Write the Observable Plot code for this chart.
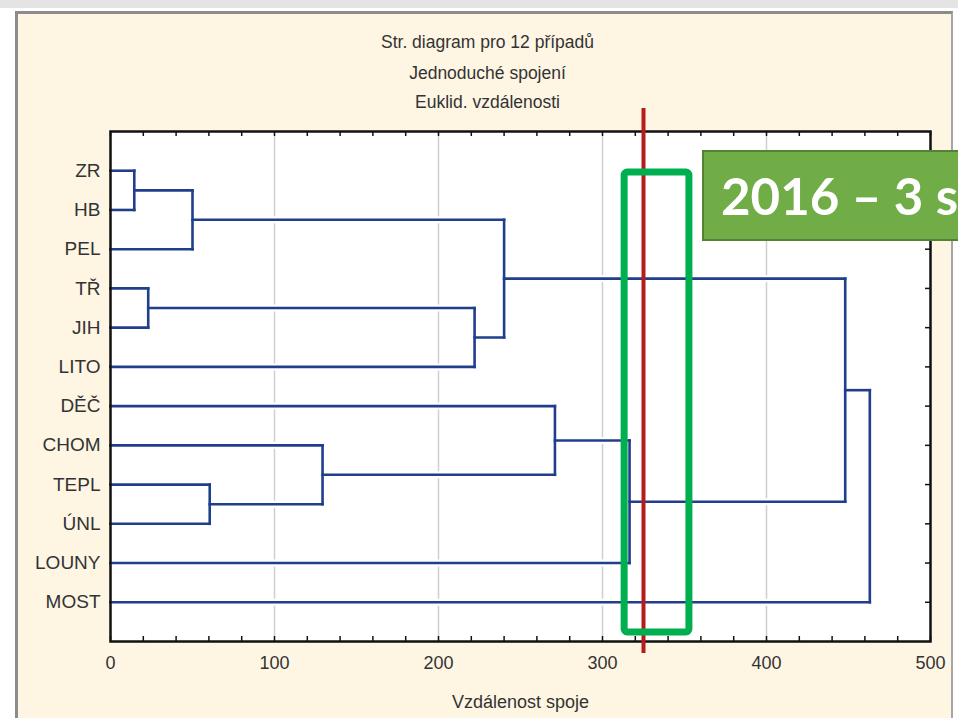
<!DOCTYPE html>
<html>
<head>
<meta charset="utf-8">
<script src="https://cdn.jsdelivr.net/npm/d3@7"></script>
<script src="https://cdn.jsdelivr.net/npm/@observablehq/plot@0.6"></script>
<style>
  html, body { margin: 0; padding: 0; width: 958px; height: 718px; overflow: hidden; background: #ffffff; }
  #page { position: relative; width: 958px; height: 718px; overflow: hidden; }
  #strip { position: absolute; left: 0; top: 0; width: 958px; height: 8px; background: #e4e4e4; }
  #panel { position: absolute; left: 15px; top: 11px; width: 938px; height: 720px; background: #fef5e3;
           border-left: 3px solid #8c8c8c; border-top: 3px solid #8c8c8c; border-right: 2px solid #a6a6a6; box-sizing: border-box; }
  #chart { position: absolute; left: 0; top: 0; }
  #badge { position: absolute; left: 702px; top: 150px; width: 320px; height: 91px; box-sizing: border-box;
           background: #70ad47; border: 2px solid #548235; color: #ffffff;
           font-family: Lato, "Open Sans", sans-serif; font-weight: 700; font-size: 51px;
           line-height: 87px; padding-left: 17px; white-space: nowrap; }
</style>
</head>
<body>
<div id="page">
  <div id="strip"></div>
  <div id="panel"></div>
  <div id="chart"></div>
  <div id="badge"></div>
</div>
<script>
// ---- data ----
const labels = ["ZR", "HB", "PEL", "TŘ", "JIH", "LITO", "DĚČ", "CHOM", "TEPL", "ÚNL", "LOUNY", "MOST"];
// merges: node ids 0..11 are leaves, 12.. are clusters in order of creation
const mergeLeft   = [0,    12, 3,  14,  13,  8,    7,     6,   19,    16,  21];
const mergeRight  = [1,    2,  4,  5,   15,  9,    17,    18,  10,    20,  11];
const mergeHeight = [14.5, 50, 23, 222, 240, 60.5, 129.3, 271, 316.5, 448, 463];
const cutLevel = 325;
const highlightRange = [313.5, 353];
const xTicks = [0, 100, 200, 300, 400, 500];
const gridTicks = [100, 200, 300, 400];
const titleLines = ["Str. diagram pro 12 případů", "Jednoduché spojení", "Euklid. vzdálenosti"];
const xLabel = "Vzdálenost spoje";
const badgeText = "2016 – 3 s";

// ---- layout of the dendrogram from merges ----
const nodeX = labels.map(() => 0);
const nodeY = labels.map((_, i) => i + 1);
const segments = [];
mergeLeft.forEach((a, k) => {
  const b = mergeRight[k], h = mergeHeight[k];
  segments.push({x1: nodeX[a], y1: nodeY[a], x2: h, y2: nodeY[a]});
  segments.push({x1: nodeX[b], y1: nodeY[b], x2: h, y2: nodeY[b]});
  segments.push({x1: h, y1: nodeY[a], x2: h, y2: nodeY[b]});
  nodeX.push(h);
  nodeY.push((nodeY[a] + nodeY[b]) / 2);
});
const rows = labels.map((_, i) => i + 1);
const minorTicks = d3.range(0, 501, 20);

const W = 958, H = 718, mL = 110, mR = 28, mT = 131, mB = 77;
const plotW = W - mL - mR, plotH = H - mT - mB;
const titleDy = [-89, -58, -29];

const chart = Plot.plot({
  width: W, height: H,
  marginLeft: mL, marginRight: mR, marginTop: mT, marginBottom: mB,
  style: {background: "transparent", fontFamily: "'Liberation Sans', Arial, sans-serif", overflow: "visible"},
  x: {domain: [0, 500]},
  y: {domain: [0, 13], reverse: true},
  marks: [
    Plot.frame({fill: "#ffffff", stroke: "none"}),
    Plot.ruleX(gridTicks, {stroke: "#cfcfcf", strokeWidth: 1.5}),
    Plot.link(segments, {x1: "x1", y1: "y1", x2: "x2", y2: "y2", stroke: "#ffffff", strokeWidth: 7}),
    Plot.link(segments, {x1: "x1", y1: "y1", x2: "x2", y2: "y2", stroke: "#1f3f8c", strokeWidth: 2.6, strokeLinecap: "square"}),
    Plot.frame({stroke: "#111111", strokeWidth: 2.5}),
    Plot.ruleX(minorTicks, {stroke: "#111111", strokeWidth: 1.5, insetTop: plotH - 5}),
    Plot.ruleX(minorTicks, {stroke: "#111111", strokeWidth: 1.5, insetBottom: plotH - 5}),
    Plot.ruleY(rows, {stroke: "#111111", strokeWidth: 1.5, insetLeft: plotW - 5}),
    Plot.ruleX([cutLevel], {stroke: "#b51d1d", strokeWidth: 4, insetTop: -23, insetBottom: -12}),
    Plot.rect([highlightRange], {x1: d => d[0], x2: d => d[1], insetTop: 41, insetBottom: 9,
      fill: "none", stroke: "#00b050", strokeWidth: 7, rx: 3}),
    Plot.axisX({ticks: xTicks, tickSize: 0, tickPadding: 15, fontSize: 18, fill: "#333333", label: null}),
    Plot.axisY({ticks: rows, tickFormat: d => labels[d - 1], tickSize: 0, tickPadding: 10, fontSize: 19, fill: "#333333", label: null}),
    ...titleLines.map((t, i) => Plot.text([t], {text: d => d, frameAnchor: "top", dx: -33, dy: titleDy[i],
      fontSize: 17.5, fill: "#333333", lineAnchor: "middle"})),
    Plot.text([xLabel], {text: d => d, frameAnchor: "bottom", dy: 61, fontSize: 18, fill: "#333333", lineAnchor: "middle"})
  ]
});
document.getElementById("chart").appendChild(chart);
document.getElementById("badge").textContent = badgeText;
</script>
</body>
</html>
